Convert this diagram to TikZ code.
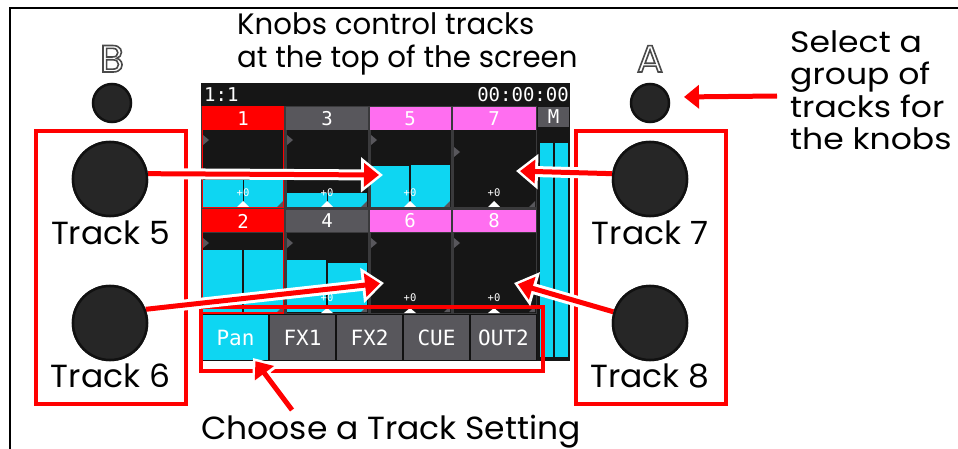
\documentclass[tikz,border=0pt]{standalone}
\usepackage{fontspec}
\setmainfont[FakeStretch=1.03]{Poppins}
\newfontfamily\titlefont[FakeStretch=0.99]{Poppins}
\newfontfamily\selfont[FakeStretch=1.12]{Poppins}
\newfontfamily\pix{DejaVu Sans Mono}
\usetikzlibrary{arrows.meta}
\newcommand{\outlinetext}[1]{\special{pdf:literal direct 1 Tr 1.6 w}#1\special{pdf:literal direct 0 Tr}}
\definecolor{scr}{HTML}{161616}
\definecolor{cy}{HTML}{0ED6F2}
\definecolor{mg}{HTML}{FF6EF0}
\definecolor{gy}{HTML}{58575C}
\definecolor{gap}{HTML}{3A3A3C}
\definecolor{knob}{HTML}{262626}
\definecolor{knobedge}{HTML}{111111}
\definecolor{rd}{HTML}{FF0000}
\definecolor{letter}{HTML}{4A4A4A}
\begin{document}
\begin{tikzpicture}[x=1pt,y=-1pt,
  knobst/.style={circle, fill=knob, draw=knobedge, line width=2.5pt, inner sep=0pt, minimum size=#1},
  redbox/.style={draw=rd, line width=3.5pt},
  lbl/.style={font=\fontsize{32}{36}\selectfont, inner sep=0pt, text=black},
  note/.style={font=\titlefont\fontsize{29.5}{33}\selectfont, inner sep=0pt, text=black, anchor=base west},
  selnote/.style={font=\selfont\fontsize{29.5}{33}\selectfont, inner sep=0pt, text=black, anchor=base west},
  pixt/.style={font=\pix\fontsize{19}{20}\selectfont, text=white, inner sep=0pt},
  tabt/.style={font=\pix\fontsize{21}{22}\selectfont, text=white, inner sep=0pt},
  tiny/.style={font=\pix\fontsize{10.5}{11}\selectfont, text=white, inner sep=0pt},
  cellbody/.style={fill=scr, draw=gap, line width=1pt},
  halo/.style={draw=white, line width=11pt, -{Triangle[length=22pt,width=34pt]}},
  redarrow/.style={draw=rd, line width=5pt, shorten >=4pt, -{Triangle[length=15pt,width=23pt]}},
  marker/.style={fill=gy},
]
\useasboundingbox (0,0) rectangle (958,449);
% outer frame
\draw[line width=2.5pt] (10,449) -- (10,8) -- (958,8);

% red group boxes
\draw[redbox] (36,131) rectangle (186,404);
\draw[redbox] (576,131) rectangle (726,404);

% ---------- screen ----------
\fill[scr] (201,83) rectangle (570,361);
\node[pixt, anchor=west] (pos) at (204,95) {1:1};
\node[pixt, anchor=east] (time) at (569,95) {00:00:00};
\fill[gap] (201,106) rectangle (537,314);

% row 1 bodies
\draw[cellbody] (202,130) rectangle (284,208);
\draw[cellbody] (286,130) rectangle (368,208);
\draw[cellbody] (370,130) rectangle (451,208);
\draw[cellbody] (453,130) rectangle (536,208);
% row 2 bodies
\draw[cellbody] (202,232) rectangle (284,313);
\draw[cellbody] (286,232) rectangle (368,313);
\draw[cellbody] (370,232) rectangle (451,313);
\draw[cellbody] (453,232) rectangle (536,313);

% cyan levels row 1
\fill[cy] (203,180) rectangle (283,207);
\fill[cy] (287,193) rectangle (367,207);
\fill[cy] (371,166) rectangle (409,207);
\fill[cy] (411,165) rectangle (450,207);
% cyan levels row 2
\fill[cy] (203,250) rectangle (242,312);
\fill[cy] (244,250) rectangle (283,312);
\fill[cy] (287,260) rectangle (326,312);
\fill[cy] (328,263) rectangle (367,312);
% pan lines
\draw[scr, line width=0.8pt] (243,177) -- (243,207);
\draw[scr, line width=0.8pt] (327,193) -- (327,207);

% left markers
\foreach \x/\y in {203/140,287/140,371/140,454/152,203/243,287/243,371/243,454/243}
  \fill[marker] (\x,\y-5) -- (\x+6,\y) -- (\x,\y+5) -- cycle;
% corner markers
\foreach \x/\y in {283/207,367/207,450/207,535/207,283/312,367/312,450/312,535/312}
  \fill[gy] (\x,\y) -- (\x-6,\y) -- (\x,\y-6) -- cycle;

% +0 labels and triangles
\node[tiny] (p1) at (243,193) {+0};
\node[tiny] (p3) at (327,193) {+0};
\node[tiny] (p5) at (410,193) {+0};
\node[tiny] (p7) at (494,193) {+0};
\node[tiny] (p4) at (327,298) {+0};
\node[tiny] (p6) at (410,298) {+0};
\node[tiny] (p8) at (494,298) {+0};
\foreach \cx in {243,327,410,494}
  \fill[white] (\cx-6,207) -- (\cx,201) -- (\cx+6,207) -- cycle;
\foreach \cx in {327,410,494}
  \fill[white] (\cx-6,313) -- (\cx,308) -- (\cx+6,313) -- cycle;

% headers
\fill[rd] (202,107) rectangle (284,130);
\fill[gy] (286,107) rectangle (368,130);
\fill[mg] (370,107) rectangle (451,130);
\fill[mg] (453,107) rectangle (536,130);
\fill[rd] (202,210) rectangle (284,232);
\fill[gy] (286,210) rectangle (368,232);
\fill[mg] (370,210) rectangle (451,232);
\fill[mg] (453,210) rectangle (536,232);
\node[pixt] (h1) at (243,118.5) {1};
\node[pixt] (h3) at (327,118.5) {3};
\node[pixt] (h5) at (410,118.5) {5};
\node[pixt] (h7) at (494,118.5) {7};
\node[pixt] (h2) at (243,221) {2};
\node[pixt] (h4) at (327,221) {4};
\node[pixt] (h6) at (410,221) {6};
\node[pixt] (h8) at (494,221) {8};
% selected outlines
\draw[rd, line width=1.5pt] (202.5,107) rectangle (283.5,207.5);
\draw[rd, line width=1.5pt] (202.5,210) rectangle (283.5,313);

% master column
\fill[gy] (538,107) rectangle (569,127);
\node[pixt] (hm) at (553.5,117) {M};
\fill[cy] (540,143) rectangle (553,357);
\fill[cy] (555,143) rectangle (568,357);

% tabs
\fill[knobedge] (201,314) rectangle (537,361);
\fill[cy] (203,315) rectangle (268,360);
\fill[gy] (270,315) rectangle (335,360);
\fill[gy] (337,315) rectangle (402,360);
\fill[gy] (404,315) rectangle (469,360);
\fill[gy] (471,315) rectangle (536,360);
\node[tabt] (tpan) at (235.5,338) {Pan};
\node[tabt] (tfx1) at (302.5,338) {FX1};
\node[tabt] (tfx2) at (369.5,338) {FX2};
\node[tabt] (tcue) at (436.5,338) {CUE};
\node[tabt] (tout) at (503.5,338) {OUT2};
\draw[redbox] (201,307) rectangle (543,371);

% ---------- knobs ----------
\node[knobst=38pt] (kB) at (112,103) {};
\node[knobst=38pt] (kA) at (650,103) {};
\node[knobst=74pt] (k5) at (110,179) {};
\node[knobst=74pt] (k6) at (110,323) {};
\node[knobst=74pt] (k7) at (650,179) {};
\node[knobst=74pt] (k8) at (650,323) {};

% target coordinates
\coordinate (a5) at (383,175);
\coordinate (a6) at (384,283);
\coordinate (a7) at (516,171);
\coordinate (a8) at (514,283);
\coordinate (aA) at (680,97);
\coordinate (sA) at (777,96);
\coordinate (aP) at (253,358);
\coordinate (sP) at (292,410);

% arrows
\foreach \s/\t in {k5.8/a5, k6.21/a6, k7.172/a7, k8.163/a8, sA/aA, sP/aP}{
  \draw[halo] (\s) -- (\t);
}
\foreach \s/\t in {k5.8/a5, k6.21/a6, k7.172/a7, k8.163/a8, sA/aA, sP/aP}{
  \draw[redarrow] (\s) -- (\t);
}
% redraw knobs on top
\node[knobst=74pt] at (k5) {};
\node[knobst=74pt] at (k6) {};
\node[knobst=74pt] at (k7) {};
\node[knobst=74pt] at (k8) {};

% ---------- texts ----------
\node[font=\fontsize{38}{40}\selectfont, inner sep=0pt, anchor=base, text=letter] (lB) at (112,72) {\outlinetext{B}};
\node[font=\fontsize{38}{40}\selectfont, inner sep=0pt, anchor=base, text=letter] (lA) at (650,72) {\outlinetext{A}};
\node[lbl, anchor=base] (t5) at (110.5,244) {Track 5};
\node[lbl, anchor=base] (t6) at (110.5,387) {Track 6};
\node[lbl, anchor=base] (t7) at (650,244) {Track 7};
\node[lbl, anchor=base] (t8) at (650,387) {Track 8};
\node[note] (k1) at (237,35) {Knobs control tracks};
\node[note] (k2) at (237,68) {at the top of the screen};
\node[selnote] (s1) at (790,53) {Select a};
\node[selnote] (s2) at (790,85) {group of};
\node[selnote] (s3) at (790,118) {tracks for};
\node[selnote] (s4) at (790,150) {the knobs};
\node[lbl, anchor=base] (ch) at (391,439) {Choose a Track Setting};
\end{tikzpicture}
\end{document}
